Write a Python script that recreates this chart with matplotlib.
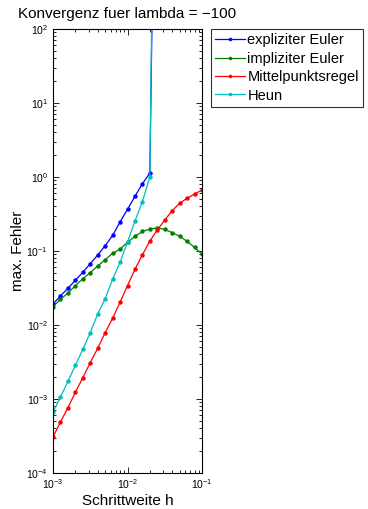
import matplotlib
matplotlib.use("Agg")
import matplotlib.pyplot as plt
from matplotlib.ticker import LogLocator, NullFormatter, FixedLocator, LogFormatterSciNotation

plt.rcParams['font.family'] = ['Liberation Sans', 'DejaVu Sans']
plt.rcParams['mathtext.fontset'] = 'custom'
plt.rcParams['mathtext.rm'] = 'Liberation Sans'
plt.rcParams['mathtext.it'] = 'Liberation Sans'
plt.rcParams['mathtext.bf'] = 'Liberation Sans'

# step sizes h = 10^(-3 + 0.1 k), k = 0..20
h = [0.001, 0.001259, 0.001585, 0.001995, 0.002512, 0.003162, 0.003981,
     0.005012, 0.00631, 0.007943, 0.01, 0.01259, 0.01585, 0.01995,
     0.02512, 0.03162, 0.03981, 0.05012, 0.0631, 0.07943, 0.1]

expl_euler = [0.0192, 0.0247, 0.0313, 0.0402, 0.0515, 0.0673, 0.0883,
              0.118, 0.162, 0.247, 0.366, 0.548, 0.81, 1.13,
              1.4e7, 3e8, 5e9, 6e10, 5e11, 3e12, 3.5e9]
impl_euler = [0.0177, 0.0222, 0.0270, 0.0340, 0.0422, 0.0509, 0.0627,
              0.0763, 0.093, 0.106, 0.131, 0.158, 0.184, 0.198,
              0.205, 0.196, 0.177, 0.158, 0.135, 0.112, 0.091]
midpoint = [3.06e-4, 4.89e-4, 7.62e-4, 1.23e-3, 1.94e-3, 3.10e-3, 4.84e-3,
            7.87e-3, 0.01233, 0.0203, 0.034, 0.0566, 0.0891, 0.136,
            0.192, 0.262, 0.351, 0.442, 0.516, 0.589, 0.667]
heun = [6.67e-4, 1.06e-3, 1.73e-3, 2.85e-3, 4.69e-3, 7.87e-3, 0.0141,
        0.0227, 0.0415, 0.0703, 0.132, 0.254, 0.463, 1.01,
        4e8, 1e10, 2e11, 3e12, 3e13, 2e14, 1e15]

x_ticks = [1e-3, 1e-2, 1e-1]
y_ticks = [1e-4, 1e-3, 1e-2, 1e-1, 1e0, 1e1, 1e2]

series = [("expliziter Euler", expl_euler, (0, 0, 1)),
          ("impliziter Euler", impl_euler, (0, 0.5, 0)),
          ("Mittelpunktsregel", midpoint, (1, 0, 0)),
          ("Heun", heun, (0, 0.75, 0.75))]

fig = plt.figure(figsize=(3.68, 5.09), dpi=100)
ax = fig.add_axes([53/368, 1-473/509, 149/368, 444/509])

for label, vals, col in series:
    ax.plot(h, vals, '-o', color=col, lw=0.9, ms=3.2, mec=col, mfc=col, mew=0, label=label)

ax.set_xscale('log')
ax.set_yscale('log')
ax.set_xlim(1e-3, 1e-1)
ax.set_ylim(1e-4, 1e2)

ax.xaxis.set_major_locator(FixedLocator(x_ticks))
ax.yaxis.set_major_locator(FixedLocator(y_ticks))
ax.xaxis.set_major_formatter(LogFormatterSciNotation())
ax.yaxis.set_major_formatter(LogFormatterSciNotation())
ax.xaxis.set_minor_locator(LogLocator(base=10, subs=range(2, 10), numticks=20))
ax.yaxis.set_minor_locator(LogLocator(base=10, subs=range(2, 10), numticks=20))
ax.xaxis.set_minor_formatter(NullFormatter())
ax.yaxis.set_minor_formatter(NullFormatter())
ax.tick_params(which='both', direction='in', top=True, right=True, labelsize=7.5, width=0.6)
ax.tick_params(which='major', length=4)
ax.tick_params(which='minor', length=2)
ax.tick_params(axis='x', pad=3)
for s in ax.spines.values():
    s.set_linewidth(0.8)

ax.set_title("Konvergenz fuer lambda = \u2212100", fontsize=11, pad=8)
ax.set_xlabel("Schrittweite h", fontsize=11, labelpad=2)
ax.set_ylabel("max. Fehler", fontsize=11, labelpad=1)

leg = ax.legend(loc='upper left', bbox_to_anchor=(211/368, 1-29/509),
                bbox_transform=fig.transFigure, borderaxespad=0,
                fontsize=10.5, frameon=True, fancybox=False, handlelength=2.0,
                handletextpad=0.2, borderpad=0.3, labelspacing=0.3, markerscale=0.8)
leg.get_frame().set_edgecolor('black')
leg.get_frame().set_linewidth(0.8)

fig.savefig("out.png", dpi=100)
